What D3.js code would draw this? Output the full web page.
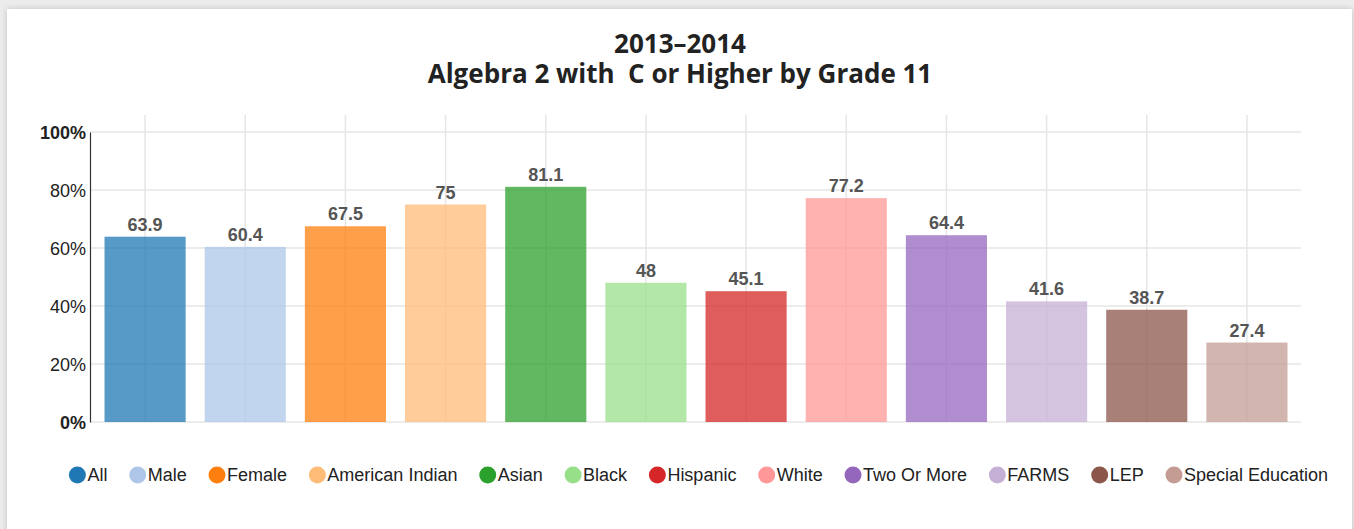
<!DOCTYPE html>
<html>
<head>
<meta charset="utf-8">
<style>
  body { margin: 0; background: #ececec; }
  .card {
    position: absolute; left: 7px; top: 9px; width: 1345px; height: 530px;
    background: #fff; box-shadow: 0 0 6px rgba(0,0,0,0.18);
  }
  svg { position: absolute; left: 0; top: 0; }
  .title { font-family: "Open Sans", sans-serif; font-weight: bold; font-size: 26px; fill: #222; }
  .tick-label { font-family: "Liberation Sans", Arial, sans-serif; font-size: 18px; fill: #222; }
  .bar-label { font-family: "Liberation Sans", Arial, sans-serif; font-size: 18px; font-weight: bold; fill: #555; }
  .legend-text { font-family: "Liberation Sans", Arial, sans-serif; font-size: 18px; fill: #222; }
</style>
</head>
<body>
<div class="card"></div>
<svg id="chart" width="1354" height="529"></svg>
<script src="https://d3js.org/d3.v7.min.js"></script>
<script>
  // Data
  const categories = ['All', 'Male', 'Female', 'American Indian', 'Asian', 'Black',
    'Hispanic', 'White', 'Two Or More', 'FARMS', 'LEP', 'Special Education'];
  const values = [63.9, 60.4, 67.5, 75, 81.1, 48, 45.1, 77.2, 64.4, 41.6, 38.7, 27.4];
  const colors = ['#1f77b4', '#aec7e8', '#ff7f0e', '#ffbb78', '#2ca02c', '#98df8a',
    '#d62728', '#ff9896', '#9467bd', '#c5b0d5', '#8c564b', '#c49c94'];
  const yTicks = [0, 20, 40, 60, 80, 100];
  const titleLines = ['2013\u20132014', 'Algebra 2 with \u00a0C or Higher by Grade 11'];

  const svg = d3.select('#chart');
  const margin = { top: 132, bottom: 422, left: 90, right: 1301 };

  const x = d3.scaleBand()
    .domain(categories)
    .range([95, 1297])
    .paddingInner(0.19)
    .paddingOuter(0.095);

  const y = d3.scaleLinear()
    .domain([0, 100])
    .range([margin.bottom, margin.top]);

  // Title (one text, two lines)
  svg.append('text')
    .attr('class', 'title')
    .attr('text-anchor', 'middle')
    .selectAll('tspan')
    .data(titleLines)
    .enter()
    .append('tspan')
    .attr('x', 680)
    .attr('y', (d, i) => 53 + i * 30)
    .text(d => d);

  // horizontal grid
  svg.append('g')
    .selectAll('line')
    .data(yTicks)
    .enter()
    .append('line')
    .attr('x1', margin.left)
    .attr('x2', margin.right)
    .attr('y1', d => y(d))
    .attr('y2', d => y(d))
    .attr('stroke', '#e6e6e6')
    .attr('stroke-width', 1.5);

  // vertical grid through band centers
  svg.append('g')
    .selectAll('line')
    .data(categories)
    .enter()
    .append('line')
    .attr('x1', d => x(d) + x.bandwidth() / 2)
    .attr('x2', d => x(d) + x.bandwidth() / 2)
    .attr('y1', 115)
    .attr('y2', margin.bottom)
    .attr('stroke', '#e6e6e6')
    .attr('stroke-width', 1.5);

  // bars
  svg.append('g')
    .selectAll('rect')
    .data(values)
    .enter()
    .append('rect')
    .attr('x', (d, i) => x(categories[i]))
    .attr('y', d => y(d))
    .attr('width', x.bandwidth())
    .attr('height', d => y(0) - y(d))
    .attr('fill', (d, i) => colors[i])
    .attr('fill-opacity', 0.75);

  // value labels
  svg.append('g')
    .selectAll('text')
    .data(values)
    .enter()
    .append('text')
    .attr('class', 'bar-label')
    .attr('x', (d, i) => x(categories[i]) + x.bandwidth() / 2)
    .attr('y', d => y(d) - 6)
    .attr('text-anchor', 'middle')
    .text(d => d);

  // y axis
  const yAxis = d3.axisLeft(y)
    .tickValues(yTicks)
    .tickSize(0)
    .tickPadding(4)
    .tickFormat(d => d + '%');
  const yAxisGroup = svg.append('g')
    .attr('transform', `translate(${margin.left}, 0)`)
    .call(yAxis);
  yAxisGroup.select('.domain').attr('stroke', '#333').attr('stroke-width', 1.2);
  yAxisGroup.selectAll('text')
    .attr('class', 'tick-label')
    .attr('font-family', null)
    .attr('font-size', null)
    .attr('fill', null)
    .attr('dy', '0.36em')
    .style('font-weight', d => (d === 0 || d === 100) ? 'bold' : 'normal');

  // legend
  const legend = svg.append('g');
  const items = legend.selectAll('g')
    .data(categories)
    .enter()
    .append('g');
  items.append('circle')
    .attr('r', 8.5)
    .attr('cy', 0)
    .attr('fill', (d, i) => colors[i]);
  items.append('text')
    .attr('class', 'legend-text')
    .attr('x', 10)
    .attr('dy', '0.36em')
    .text(d => d);

  let cx = 0;
  const gap = 13.3;
  const positions = [];
  items.each(function () {
    const w = 10 + d3.select(this).select('text').node().getComputedTextLength();
    positions.push(cx);
    cx += 8.5 + w + gap + 8.5;
  });
  const total = cx - gap - 8.5;
  const startX = 698.5 - total / 2 + 8.5;
  items.attr('transform', (d, i) => `translate(${startX + positions[i]}, 475)`);
</script>
</body>
</html>
